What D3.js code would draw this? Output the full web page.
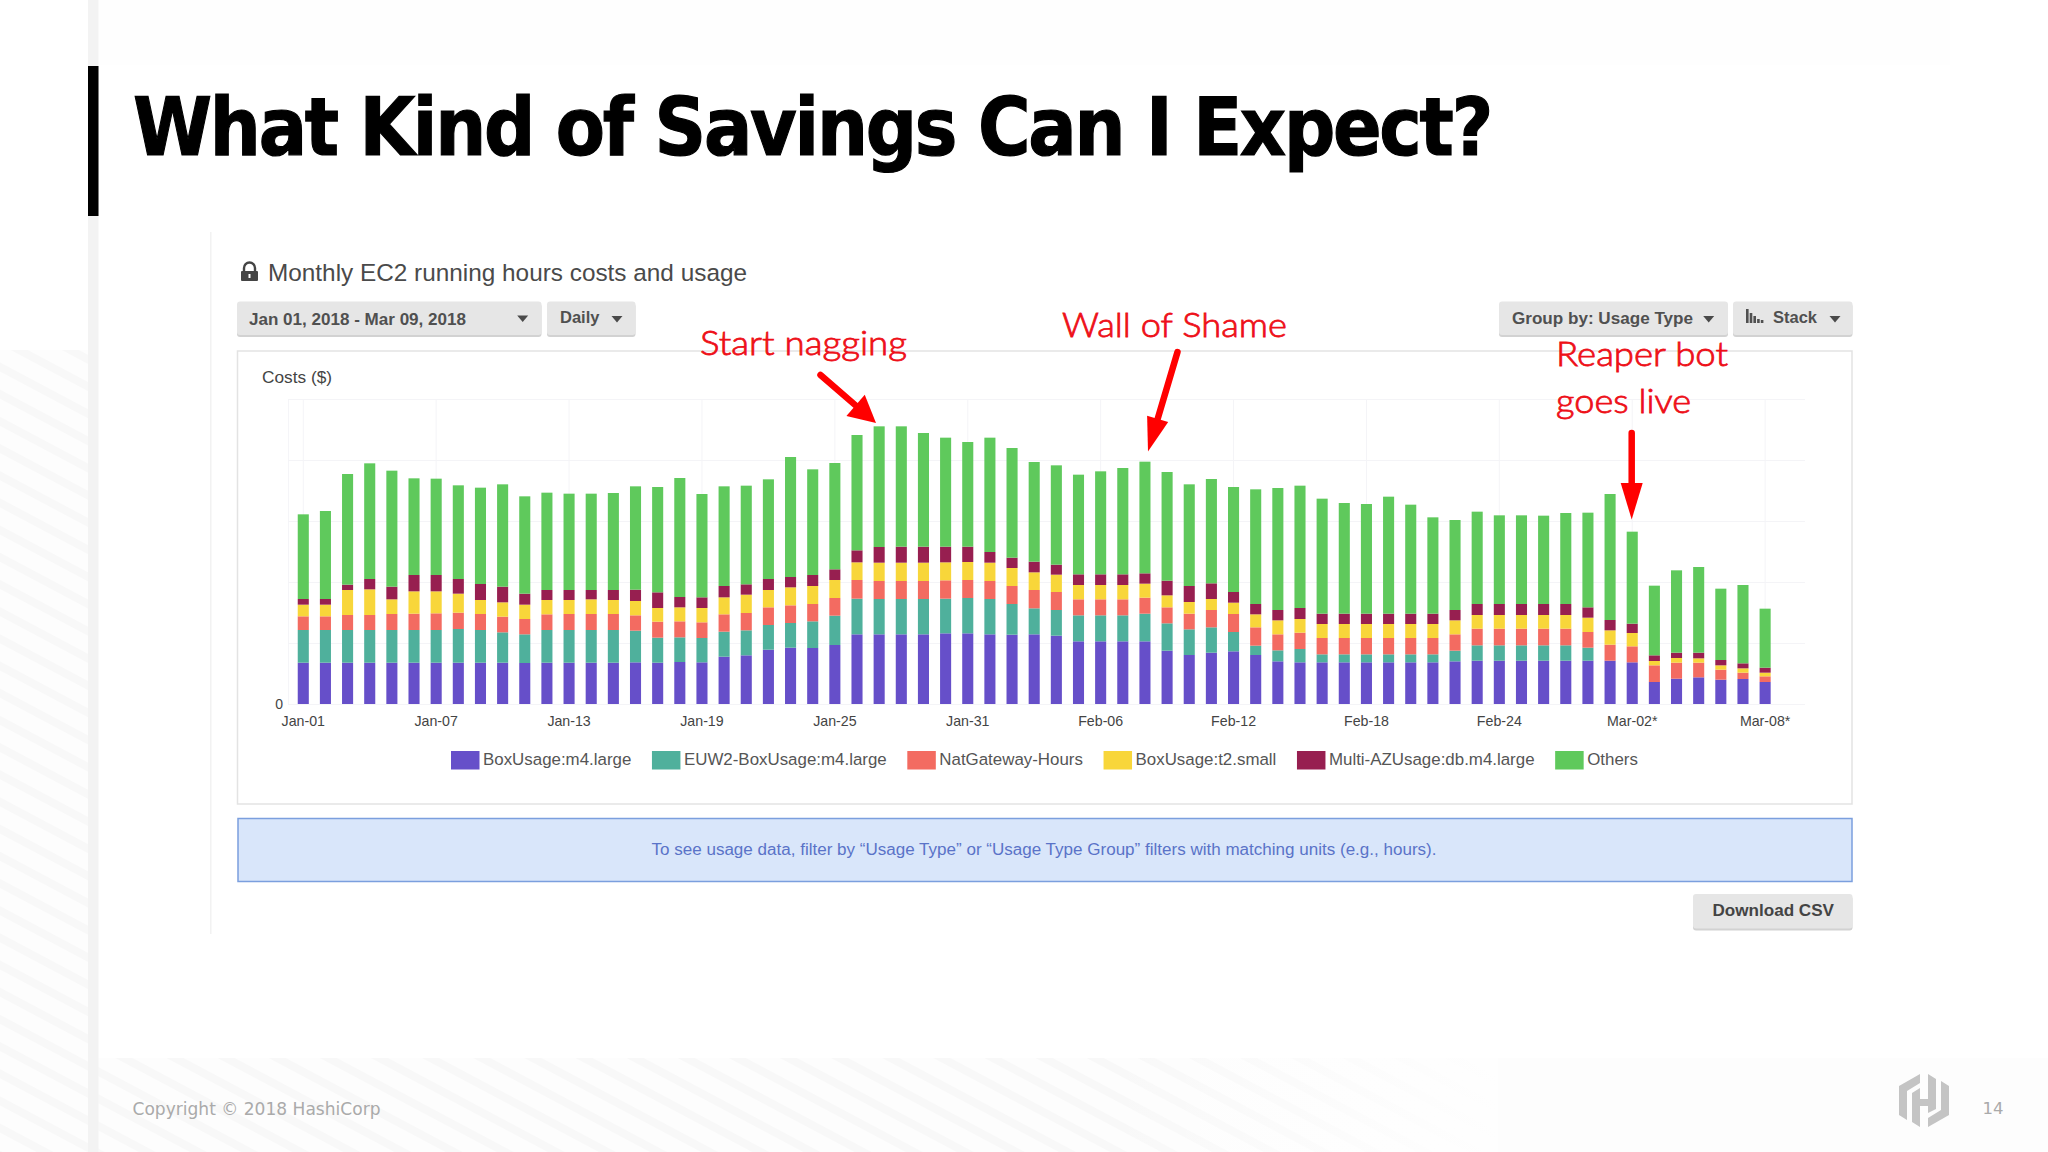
<!DOCTYPE html>
<html>
<head>
<meta charset="utf-8">
<script src="https://cdnjs.cloudflare.com/ajax/libs/d3/7.8.5/d3.min.js"></script>
<style>
	html, body { margin: 0; padding: 0; background: #fff; }
	svg { display: block; }
	text { font-family: "Liberation Sans", Arial, sans-serif; }
</style>
</head>
<body>
<script>
// the chart has no y values except 0, so costs are in relative units read off the bar heights
var days = [
	"Jan-01","Jan-02","Jan-03","Jan-04","Jan-05","Jan-06","Jan-07","Jan-08","Jan-09","Jan-10","Jan-11","Jan-12",
	"Jan-13","Jan-14","Jan-15","Jan-16","Jan-17","Jan-18","Jan-19","Jan-20","Jan-21","Jan-22","Jan-23","Jan-24",
	"Jan-25","Jan-26","Jan-27","Jan-28","Jan-29","Jan-30","Jan-31","Feb-01","Feb-02","Feb-03","Feb-04","Feb-05",
	"Feb-06","Feb-07","Feb-08","Feb-09","Feb-10","Feb-11","Feb-12","Feb-13","Feb-14","Feb-15","Feb-16","Feb-17",
	"Feb-18","Feb-19","Feb-20","Feb-21","Feb-22","Feb-23","Feb-24","Feb-25","Feb-26","Feb-27","Feb-28","Mar-01*",
	"Mar-02*","Mar-03*","Mar-04*","Mar-05*","Mar-06*","Mar-07*","Mar-08*"
];
var tick_labels = ["Jan-01","Jan-07","Jan-13","Jan-19","Jan-25","Jan-31","Feb-06","Feb-12","Feb-18","Feb-24","Mar-02*","Mar-08*"];
var grid_values = [0, 183, 366, 549, 732, 915];

var box_usage_m4 = [124,124,124,124,124,124,124,124,124,124,123,124,124,124,124,125,124,126,125,142,146,163,
	169,168,177,209,209,209,209,212,212,209,208,209,205,188,188,188,188,160,147,154,158,147,128,
	125,125,125,125,125,125,125,128,130,130,130,130,130,130,130,125,66,76,80,73,75,66];
var euw2_box_usage = [98,98,98,98,98,98,98,101,98,91,86,98,98,98,98,95,75,74,73,75,75,74,
	74,80,88,107,106,106,106,104,106,106,92,78,77,78,78,78,83,82,77,76,58,28,33,
	40,24,24,24,24,24,24,32,46,46,46,46,46,39,0,0,0,0,0,0,0,0];
var nat_gateway = [41,41,45,45,48,49,50,49,48,47,46,47,48,48,48,46,48,48,47,52,52,53,
	53,52,53,56,54,54,54,55,54,54,54,55,54,48,48,48,48,48,47,52,54,55,48,
	49,49,49,49,49,49,49,49,50,50,50,50,50,47,48,48,50,48,44,30,19,17];
var box_usage_t2 = [35,35,75,77,44,67,66,57,42,43,43,43,42,44,42,43,41,42,43,51,55,52,
	54,54,54,53,55,55,55,54,54,55,54,53,52,43,43,43,42,36,35,33,34,39,42,
	41,42,42,42,42,42,42,42,41,41,41,41,41,43,43,40,13,14,13,13,13,11];
var multi_az = [17,17,16,31,38,49,49,44,48,47,33,30,30,28,30,34,47,31,32,34,31,33,
	31,33,32,36,47,48,48,47,46,32,31,32,30,32,32,32,31,44,48,47,32,31,31,
	33,31,31,31,31,31,31,31,33,33,33,33,33,31,31,28,17,16,17,16,15,15];
var others = [254,264,332,347,348,290,289,281,289,307,292,292,289,289,291,310,316,357,310,299,296,299,
	360,317,319,346,362,361,341,327,314,343,329,299,298,299,309,319,335,326,305,313,315,344,366,
	367,345,332,329,351,327,289,270,277,266,266,265,273,284,378,276,209,247,257,214,235,177];

var series_names = ["BoxUsage:m4.large","EUW2-BoxUsage:m4.large","NatGateway-Hours","BoxUsage:t2.small","Multi-AZUsage:db.m4.large","Others"];
var series_values = [box_usage_m4, euw2_box_usage, nat_gateway, box_usage_t2, multi_az, others];
var series_colours = ["#664fc9","#4fb09c","#f36b61","#f8d63a","#971f50","#5fc95c"];

var width = 2048;
var height = 1152;
var svg = d3.select("body").append("svg").attr("width", width).attr("height", height);
var defs = svg.append("defs");

var pattern = defs.append("pattern")
	.attr("id", "stripes")
	.attr("width", 24).attr("height", 24)
	.attr("patternUnits", "userSpaceOnUse")
	.attr("patternTransform", "rotate(28)");
pattern.append("rect").attr("width", 24).attr("height", 24).attr("fill", "#fdfdfd");
pattern.append("rect").attr("y", 8).attr("width", 24).attr("height", 8).attr("fill", "#f8f8f8");

var fade = defs.append("linearGradient").attr("id", "fade");
fade.append("stop").attr("offset", "0").attr("stop-color", "#fff").attr("stop-opacity", 0);
fade.append("stop").attr("offset", "1").attr("stop-color", "#fefefe").attr("stop-opacity", 1);

// slide background
svg.append("rect").attr("x", 98).attr("y", 0).attr("width", 1852).attr("height", 65).attr("fill", "#fefefe");
svg.append("rect").attr("x", 0).attr("y", 350).attr("width", 88).attr("height", 802).attr("fill", "url(#stripes)");
svg.append("rect").attr("x", 98).attr("y", 1058).attr("width", 1400).attr("height", 94).attr("fill", "url(#stripes)");
svg.append("rect").attr("x", 1100).attr("y", 1058).attr("width", 400).attr("height", 94).attr("fill", "url(#fade)");
svg.append("rect").attr("x", 1498).attr("y", 1058).attr("width", 550).attr("height", 94).attr("fill", "#fdfdfd");
svg.append("rect").attr("x", 88).attr("y", 0).attr("width", 10.5).attr("height", height).attr("fill", "#f3f3f3");
svg.append("rect").attr("x", 88).attr("y", 66).attr("width", 10.5).attr("height", 150).attr("fill", "#000");
svg.append("rect").attr("x", 210).attr("y", 232).attr("width", 1.5).attr("height", 702).attr("fill", "#f2f2f2");

svg.append("text")
	.attr("x", 133).attr("y", 155)
	.attr("textLength", 1358).attr("lengthAdjust", "spacingAndGlyphs")
	.style("font-family", "'DejaVu Sans'").style("font-weight", "bold").style("font-size", "80px")
	.style("letter-spacing", "-2.5px")
	.attr("fill", "#000").attr("stroke", "#000").attr("stroke-width", 1.2)
	.text("What Kind of Savings Can I Expect?");

function label(x, y, txt, size, colour, len, bold) {
	var t = svg.append("text").attr("x", x).attr("y", y)
		.style("font-size", size + "px").attr("fill", colour).text(txt);
	if (len) t.attr("textLength", len).attr("lengthAdjust", "spacingAndGlyphs");
	if (bold) t.style("font-weight", "bold");
	return t;
}

function button(x, y, w, h) {
	svg.append("rect").attr("x", x).attr("y", y + 2).attr("width", w).attr("height", h - 2).attr("rx", 3).attr("fill", "#d2d2d2");
	svg.append("rect").attr("x", x).attr("y", y).attr("width", w).attr("height", h - 2).attr("rx", 3).attr("fill", "#e6e6e6");
}

function caret(x, y) {
	svg.append("path").attr("d", "M" + (x - 5.5) + "," + (y - 3) + "h11l-5.5,6.5z").attr("fill", "#4a4a4a");
}

// lock icon
svg.append("path")
	.attr("d", "M244,271v-3a5.5,5.5 0 0 1 11,0v3")
	.attr("fill", "none").attr("stroke", "#444").attr("stroke-width", 2.4);
svg.append("rect").attr("x", 241).attr("y", 271).attr("width", 17).attr("height", 10).attr("rx", 1).attr("fill", "#444");
svg.append("rect").attr("x", 248.5).attr("y", 274).attr("width", 2).attr("height", 4).attr("fill", "#fff");
label(268, 281, "Monthly EC2 running hours costs and usage", 24.5, "#4a4a4a", 479);

button(237, 301.5, 304.5, 35.5);
label(249, 324.5, "Jan 01, 2018 - Mar 09, 2018", 16, "#505050", 217, true);
caret(522.7, 318.5);
button(547, 301.5, 88.5, 35.5);
label(560, 323, "Daily", 16, "#505050", 39.5, true);
caret(617, 319);
button(1499, 301.5, 229, 35.5);
label(1512, 324, "Group by: Usage Type", 16, "#505050", 181, true);
caret(1708.7, 319);
button(1733, 301.5, 119.5, 35.5);
svg.selectAll(".stackbar").data([14, 10, 7, 4, 3]).enter().append("rect")
	.attr("x", function(d, i) { return 1746 + i * 3.7; })
	.attr("y", function(d) { return 323 - d; })
	.attr("width", 2.6).attr("height", function(d) { return d; }).attr("fill", "#505050");
label(1773, 322.5, "Stack", 16, "#505050", 44, true);
caret(1835, 319);

// chart panel
svg.append("rect").attr("x", 237.5).attr("y", 351).attr("width", 1614.5).attr("height", 453)
	.attr("fill", "#fff").attr("stroke", "#e3e3e3").attr("stroke-width", 1.5);
label(262, 382.5, "Costs ($)", 16.5, "#444", 70);

var x = d3.scaleBand().domain(days).range([292.2, 1776.2]).paddingInner(0.5).paddingOuter(0.25);
var y = d3.scaleLinear().domain([0, 915]).range([704, 399]);

var y_grid = svg.append("g").attr("transform", "translate(288,0)")
	.call(d3.axisRight(y).tickValues(grid_values).tickSize(1517).tickFormat(""));
y_grid.select(".domain").attr("stroke", "#f5f5f8");
y_grid.selectAll("line").attr("stroke", "#f4f4f7");

var x_grid = svg.append("g").attr("transform", "translate(0,399)")
	.call(d3.axisBottom(x).tickValues(tick_labels).tickSize(305).tickFormat(""));
x_grid.select(".domain").remove();
x_grid.selectAll("line").attr("stroke", "#f4f4f7");

var rows = days.map(function(d, i) {
	var row = { day: d };
	series_names.forEach(function(name, s) { row[name] = series_values[s][i]; });
	return row;
});
var stacked = d3.stack().keys(series_names)(rows);

svg.append("g").selectAll("g")
	.data(stacked)
	.enter().append("g")
	.attr("fill", function(d, i) { return series_colours[i]; })
	.selectAll("rect")
	.data(function(d) { return d; })
	.enter().append("rect")
	.attr("x", function(d) { return x(d.data.day); })
	.attr("y", function(d) { return y(d[1]); })
	.attr("width", x.bandwidth())
	.attr("height", function(d) { return y(d[0]) - y(d[1]); });

var x_axis = svg.append("g").attr("transform", "translate(0,704)")
	.call(d3.axisBottom(x).tickValues(tick_labels).tickSize(0).tickPadding(12));
x_axis.select(".domain").remove();
x_axis.selectAll("text").style("font-size", "14.2px").style("font-family", "'Liberation Sans'").attr("fill", "#444");

var y_axis = svg.append("g").attr("transform", "translate(283,0)")
	.call(d3.axisLeft(y).tickValues([0]).tickSize(0).tickPadding(0));
y_axis.select(".domain").remove();
y_axis.selectAll("text").style("font-size", "14px").style("font-family", "'Liberation Sans'").attr("fill", "#444");

// legend, each item starts where the last one's text ended
var legend_x = 451;
series_names.forEach(function(name, i) {
	svg.append("rect").attr("x", legend_x).attr("y", 751).attr("width", 28.5).attr("height", 18.5).attr("fill", series_colours[i]);
	var t = label(legend_x + 32, 765, name, 16.9, "#555");
	legend_x = legend_x + 32 + t.node().getComputedTextLength() + 20.6;
});

// usage note
svg.append("rect").attr("x", 238).attr("y", 818.5).attr("width", 1614).attr("height", 63)
	.attr("fill", "#d9e6fa").attr("stroke", "#7b9fde").attr("stroke-width", 1.5);
label(651.5, 855, "To see usage data, filter by \u201cUsage Type\u201d or \u201cUsage Type Group\u201d filters with matching units (e.g., hours).", 16, "#5a73c8", 785);

button(1693, 894, 159.5, 36.5);
label(1712.5, 916, "Download CSV", 17, "#444", 121.5, true);

// hand drawn annotations
function annotation(x, y, txt, len) {
	svg.append("text").attr("x", x).attr("y", y)
		.attr("textLength", len).attr("lengthAdjust", "spacingAndGlyphs")
		.style("font-family", "Lato").style("font-size", "34px").style("font-weight", 300)
		.attr("fill", "#ee0f18").attr("stroke", "#ee0f18").attr("stroke-width", 0.8).text(txt);
}
annotation(700, 355, "Start nagging", 207);
annotation(1062, 336.5, "Wall of Shame", 225);
annotation(1556, 366, "Reaper bot", 172);
annotation(1556, 413, "goes live", 135);

function arrow(x0, y0, x1, y1, head_len, head_half) {
	var a = Math.atan2(y1 - y0, x1 - x0);
	var cx = x1 - head_len * Math.cos(a);
	var cy = y1 - head_len * Math.sin(a);
	var nx = -Math.sin(a) * head_half;
	var ny = Math.cos(a) * head_half;
	svg.append("line").attr("x1", x0).attr("y1", y0).attr("x2", cx).attr("y2", cy)
		.attr("stroke", "#ff0000").attr("stroke-width", 6.5).attr("stroke-linecap", "round");
	svg.append("path")
		.attr("d", "M" + x1 + "," + y1 + "L" + (cx + nx) + "," + (cy + ny) + "L" + (cx - nx) + "," + (cy - ny) + "Z")
		.attr("fill", "#ff0000");
}
arrow(820.5, 375, 876, 423, 27, 14);
arrow(1177.5, 352, 1148, 451.5, 34, 11);
arrow(1631.7, 433, 1631.7, 519.5, 36.5, 11);

// footer
svg.append("text").attr("x", 132.5).attr("y", 1115)
	.attr("textLength", 248).attr("lengthAdjust", "spacingAndGlyphs")
	.style("font-family", "'DejaVu Sans'").style("font-size", "18px").attr("fill", "#aaa")
	.text("Copyright \u00a9 2018 HashiCorp");
svg.append("text").attr("x", 1982.5).attr("y", 1114)
	.style("font-family", "'DejaVu Sans'").style("font-size", "16.5px").attr("fill", "#aaa")
	.text("14");

var logo = svg.append("g").attr("transform", "translate(1899,1074)").attr("fill", "#c4c4c4");
logo.append("path").attr("d", "M21,0L0,12V41L8,46V17L21,9Z");
logo.append("path").attr("d", "M13,19L21,14V25H29V0L37,5V35L29,39V32H21V53L13,48Z");
logo.append("path").attr("d", "M29,53L50,41V12L42,7V36L29,44Z");
</script>
</body>
</html>
